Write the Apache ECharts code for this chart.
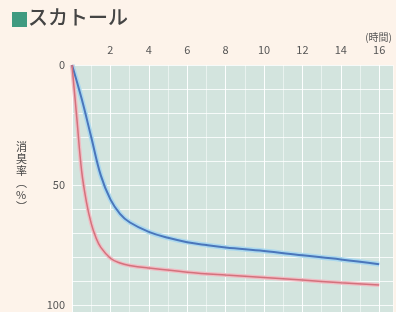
<!DOCTYPE html>
<html><head><meta charset="utf-8">
<script src="https://cdn.jsdelivr.net/npm/echarts@6/dist/echarts.min.js"></script>
<style>html,body{margin:0;padding:0;background:#fdf3ea;}#c{width:396px;height:312px;}</style>
</head><body><div id="c"></div>
<script>
const title = 'スカトール';
const yName = '消臭率(%)';
const xUnit = '(時間)';
const blueData = [[0,0],[0.5,14],[1,30],[1.5,46],[2,56],[2.5,62],[3,65.5],[4,69.5],[5,72],[6,73.8],[7,75],[8,76],[10,77.5],[12,79.3],[14,81],[16,83]];
const redData = [[0,0],[0.25,22],[0.5,44],[0.75,57],[1,66],[1.25,72],[1.5,76],[2,80.5],[2.5,82.5],[3,83.5],[4,84.6],[6,86.3],[8,87.5],[10,88.5],[12,89.6],[14,90.7],[16,91.7]];
const yLabels = [0, 50, 100];

const chart = echarts.init(document.getElementById('c'));
const font = '"Noto Sans CJK JP", "Noto Sans", sans-serif';
chart.setOption({
  backgroundColor: '#fdf3ea',
  animation: false,
  grid: {left: 72, top: 65, right: 0, bottom: 0, show: true, backgroundColor: '#d3e4de', borderWidth: 0},
  xAxis: {
    type: 'value', position: 'top', min: 0, max: 16.72, interval: 1,
    axisLine: {show: false}, axisTick: {show: false},
    axisLabel: {color: '#555', fontSize: 11, fontFamily: font, margin: 10,
      formatter: v => (v > 0 && Number.isInteger(v) && v % 2 === 0) ? String(v) : ''},
    splitLine: {show: true, lineStyle: {color: ['rgba(255,255,255,0.95)', 'rgba(255,255,255,0.5)'], width: 1}}
  },
  yAxis: {
    type: 'value', inverse: true, min: 0, max: 102.9, interval: 10,
    axisLine: {show: false}, axisTick: {show: false},
    axisLabel: {color: '#555', fontSize: 11, fontFamily: font, margin: 7,
      formatter: v => yLabels.includes(v) ? String(v) : ''},
    splitLine: {show: true, lineStyle: {color: 'rgba(255,255,255,0.8)', width: 1}}
  },
  graphic: [
    {type: 'rect', left: 12, top: 12, shape: {width: 15, height: 15}, style: {fill: '#3f9a80'}},
    {type: 'text', left: 28, top: 7, style: {text: title, fontSize: 20, fontWeight: 500, fontFamily: font, fill: '#444'}},
    {type: 'text', right: 4, top: 32, style: {text: xUnit, fontSize: 10, fontFamily: font, fill: '#555'}},
    {type: 'text', left: 16, top: 141, style: {text: '消\n臭\n率\n︵\n%\n︶', fontSize: 11, lineHeight: 12, fontFamily: font, fill: '#444', align: 'center'}}
  ],
  series: [
    {type: 'line', data: blueData, smooth: 0.4, showSymbol: false, lineStyle: {color: '#abd8ee', width: 5}, z: 2},
    {type: 'line', data: blueData, smooth: 0.4, showSymbol: false, lineStyle: {color: '#4a76bb', width: 2}, z: 3},
    {type: 'line', data: redData, smooth: 0.4, showSymbol: false, lineStyle: {color: '#efbcc3', width: 4}, z: 2},
    {type: 'line', data: redData, smooth: 0.4, showSymbol: false, lineStyle: {color: '#d4717c', width: 1.5}, z: 3}
  ]
});
</script></body></html>
